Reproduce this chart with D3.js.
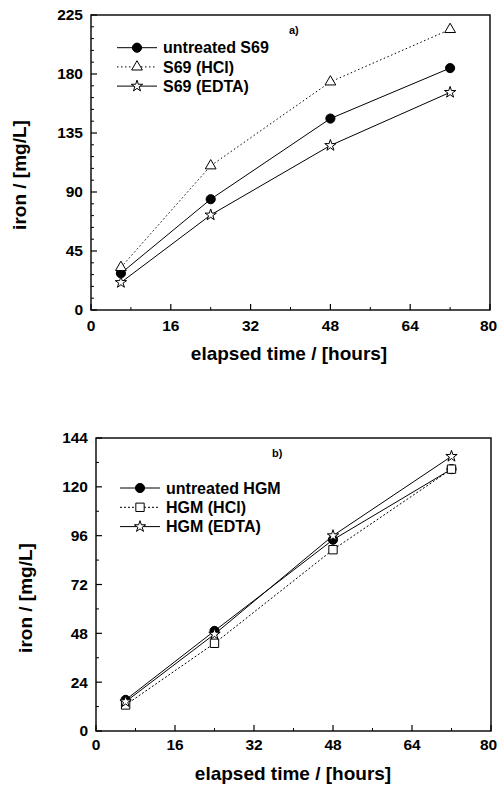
<!DOCTYPE html>
<html><head><meta charset="utf-8">
<script src="https://cdn.jsdelivr.net/npm/d3@7"></script>
<style>
body{margin:0;background:#fff;}
svg{display:block;font-family:"Liberation Sans",Arial,sans-serif;}
</style></head>
<body>
<svg id="c" width="498" height="788"></svg>
<script>
// ---- Data ----
const hours = [6, 24, 48, 72];
const untreatedS69 = [28, 84.5, 146, 184.5];
const s69HCl = [32.5, 110, 174, 214];
const s69EDTA = [21, 72.5, 125.5, 166];
const untreatedHGM = [15.3, 49.2, 94, 128.7];
const hgmHCl = [12.8, 43.1, 89.1, 128.7];
const hgmEDTA = [14.4, 47.6, 96, 135];
const xTicks = [0, 16, 32, 48, 64, 80];
const yTicksA = [0, 45, 90, 135, 180, 225];
const yTicksB = [0, 24, 48, 72, 96, 120, 144];
const legendA = ["untreated S69", "S69 (HCl)", "S69 (EDTA)"];
const legendB = ["untreated HGM", "HGM (HCl)", "HGM (EDTA)"];

const svg = d3.select("#c");
const W = 498;

function panel(cfg){
  const {x0,x1,y0,y1,ymax,yTicks,yMinor,series,legend,tag,tagPos,legPos,yLabelX,yLabelY,xLabelY,tickLabY,xLabelX} = cfg;
  const g = svg.append("g");
  const x = d3.scaleLinear().domain([0,80]).range([x0,x1]);
  const y = d3.scaleLinear().domain([0,ymax]).range([y1,y0]);

  // minor ticks
  const xMinor = d3.range(8,80,16);
  g.selectAll(".xm").data(xMinor).join("line")
    .attr("x1",d=>x(d)).attr("x2",d=>x(d)).attr("y1",y1).attr("y2",y1-3)
    .attr("stroke","#000").attr("stroke-width",1);
  const yMinorVals = d3.range(0, ymax+0.001, yMinor).filter(v=>!yTicks.some(t=>Math.abs(t-v)<1e-6));
  g.selectAll(".ym").data(yMinorVals).join("line")
    .attr("y1",d=>y(d)).attr("y2",d=>y(d)).attr("x1",x0).attr("x2",x0+3)
    .attr("stroke","#000").attr("stroke-width",1);

  // major ticks
  g.selectAll(".xM").data(xTicks).join("line")
    .attr("x1",d=>x(d)).attr("x2",d=>x(d)).attr("y1",y1).attr("y2",y1-6)
    .attr("stroke","#000").attr("stroke-width",1.2);
  g.selectAll(".yM").data(yTicks).join("line")
    .attr("y1",d=>y(d)).attr("y2",d=>y(d)).attr("x1",x0).attr("x2",x0+6)
    .attr("stroke","#000").attr("stroke-width",1.2);

  // tick labels
  g.selectAll(".xl").data(xTicks).join("text")
    .attr("x",d=>Math.min(x(d), W-9.5)).attr("y",tickLabY).attr("text-anchor","middle")
    .attr("font-size",15.5).attr("font-weight","bold").text(d=>d);
  g.selectAll(".yl").data(yTicks).join("text")
    .attr("x",x0-8).attr("y",d=>y(d)).attr("dy","0.35em").attr("text-anchor","end")
    .attr("font-size",15.5).attr("font-weight","bold").text(d=>d);

  // frame
  g.append("rect").attr("x",x0).attr("y",y0).attr("width",x1-x0).attr("height",y1-y0)
    .attr("fill","none").attr("stroke","#000").attr("stroke-width",1.4);

  // axis titles
  g.append("text").attr("x",xLabelX).attr("y",xLabelY).attr("text-anchor","middle")
    .attr("font-size",19).attr("font-weight","bold").text("elapsed time / [hours]");
  g.append("text").attr("transform",`translate(${yLabelX},${yLabelY}) rotate(-90)`)
    .attr("text-anchor","middle").attr("font-size",19).attr("font-weight","bold").text("iron / [mg/L]");

  g.append("text").attr("x",tagPos[0]).attr("y",tagPos[1]).attr("font-size",11).attr("font-weight","bold").text(tag);

  const line = d3.line().x(d=>x(d[0])).y(d=>y(d[1]));
  series.forEach(s=>{
    const pts = hours.map((h,i)=>[h,s.values[i]]);
    g.append("path").attr("d",line(pts)).attr("fill","none").attr("stroke","#000")
      .attr("stroke-width",1).attr("stroke-dasharray",s.dash||null);
  });
  series.forEach(s=>{
    const pts = hours.map((h,i)=>[h,s.values[i]]);
    g.selectAll(null).data(pts).join("path")
      .attr("transform",d=>`translate(${x(d[0])},${y(d[1])})`)
      .attr("d",d3.symbol().type(s.sym).size(s.size)())
      .attr("fill",s.fill).attr("stroke","#000").attr("stroke-width",1);
  });

  // legend
  series.forEach((s,i)=>{
    const ly = legPos[1] + i*legPos[2];
    g.append("line").attr("x1",legPos[0]).attr("x2",legPos[0]+40).attr("y1",ly).attr("y2",ly)
      .attr("stroke","#000").attr("stroke-width",1).attr("stroke-dasharray",s.dash||null);
    g.append("path").attr("transform",`translate(${legPos[0]+20},${ly})`)
      .attr("d",d3.symbol().type(s.sym).size(s.size)())
      .attr("fill",s.fill).attr("stroke","#000").attr("stroke-width",1);
    g.append("text").attr("x",legPos[0]+46).attr("y",ly).attr("dy","0.36em")
      .attr("font-size",16).attr("font-weight","bold").text(legend[i]);
  });
}

panel({x0:91,x1:490,y0:15,y1:310,ymax:225,yTicks:yTicksA,yMinor:9,
  series:[
    {values:untreatedS69,sym:d3.symbolCircle,size:66,fill:"#000"},
    {values:s69HCl,sym:d3.symbolTriangle,size:50,fill:"#fff",dash:"1.5,2.5"},
    {values:s69EDTA,sym:d3.symbolStar,size:40,fill:"#fff"}
  ],
  legend:legendA,tag:"a)",tagPos:[289,34],legPos:[117,47.7,19.2],
  yLabelX:26,yLabelY:175,xLabelY:360,xLabelX:289,tickLabY:331});

panel({x0:96,x1:491,y0:438,y1:731,ymax:144,yTicks:yTicksB,yMinor:12,
  series:[
    {values:untreatedHGM,sym:d3.symbolCircle,size:66,fill:"#000"},
    {values:hgmHCl,sym:d3.symbolSquare,size:70,fill:"#fff",dash:"2,2"},
    {values:hgmEDTA,sym:d3.symbolStar,size:40,fill:"#fff"}
  ],
  legend:legendB,tag:"b)",tagPos:[272,457],legPos:[120,488,19.3],
  yLabelX:32,yLabelY:598,xLabelY:780,xLabelX:293,tickLabY:750});
</script>
</body></html>
